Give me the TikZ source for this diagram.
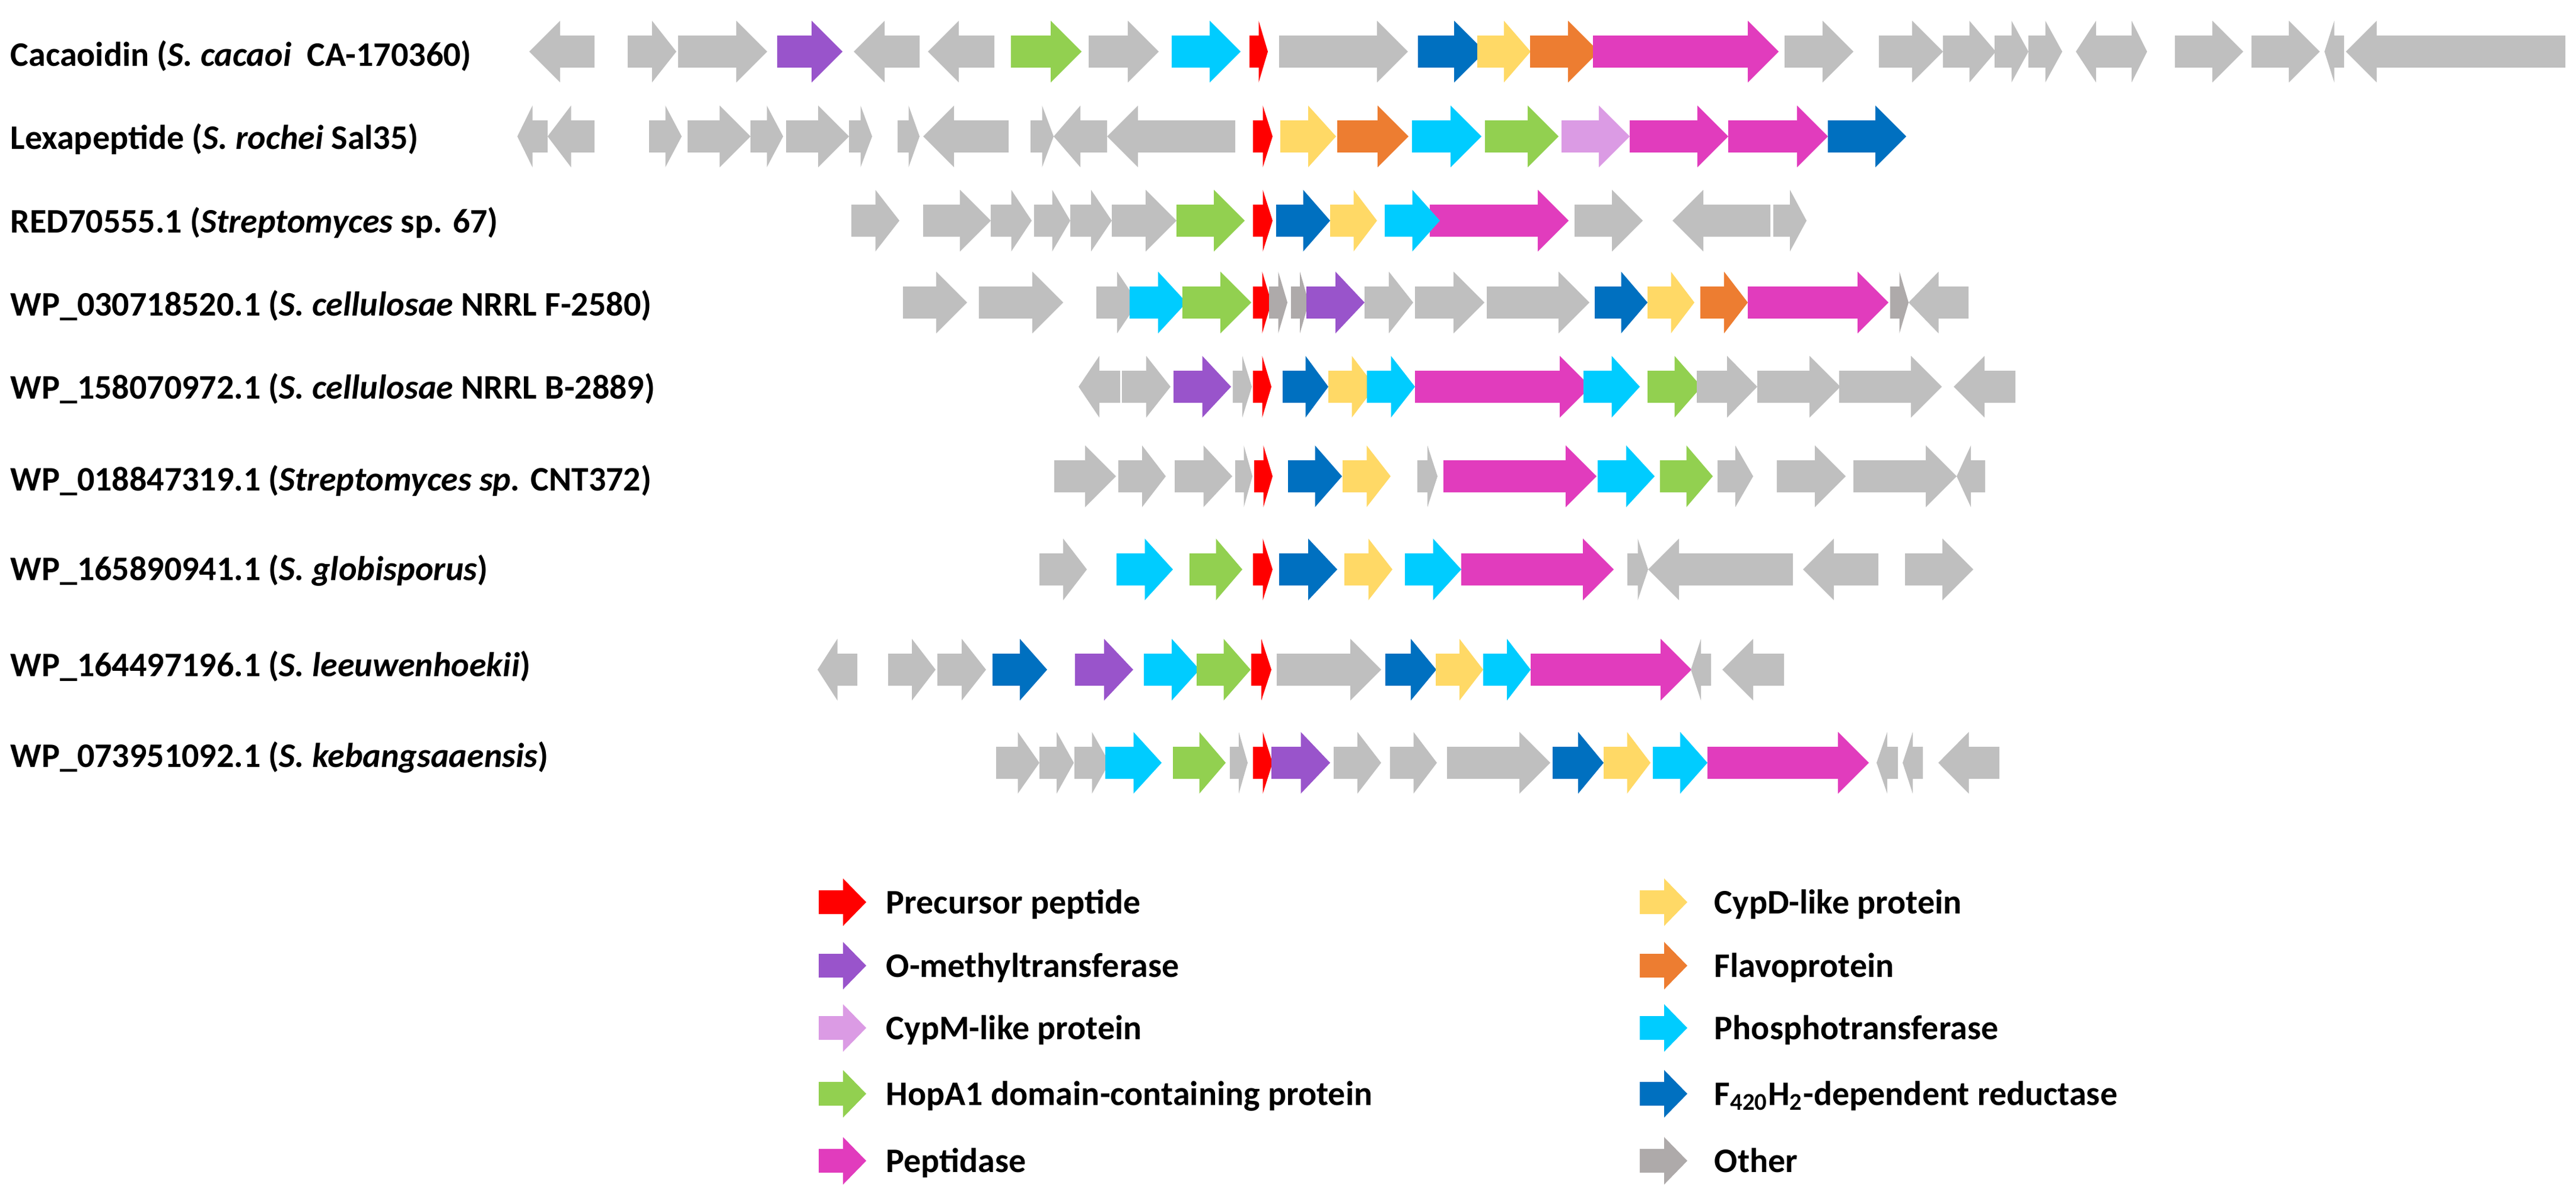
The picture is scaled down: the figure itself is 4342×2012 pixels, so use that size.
\documentclass[tikz,border=0pt]{standalone}
\usepackage{fontspec}
\setmainfont{Carlito}

\definecolor{pep}{HTML}{FF0000}
\definecolor{omt}{HTML}{9954CB}
\definecolor{cypm}{HTML}{DB9BE4}
\definecolor{hopa}{HTML}{92D050}
\definecolor{ptd}{HTML}{E13CBD}
\definecolor{cypd}{HTML}{FFD966}
\definecolor{flavo}{HTML}{ED7D31}
\definecolor{phos}{HTML}{00CCFF}
\definecolor{fred}{HTML}{0070C0}
\definecolor{gr}{HTML}{BFBFBF}
\definecolor{oth}{HTML}{AEAAAA}

\begin{document}
\begin{tikzpicture}[x=0.25pt,y=-0.25pt,
  lab/.style={anchor=base west,inner sep=0pt,font=\bfseries\fontsize{14.5}{17}\selectfont},
  keytext/.style={lab}]
\useasboundingbox (0,0) rectangle (4342,2012);

\def\gene(#1,#2,#3)#4{
	\pgfmathsetmacro\hb{#2-sign(#2-#1)*min(52,abs(#2-#1)/2)}
	\fill[#4] (#1,#3-27) -- (\hb,#3-27) -- (\hb,#3-52) -- (#2,#3) -- (\hb,#3+52) -- (\hb,#3+27) -- (#1,#3+27) -- cycle;
}
\def\keyarrow(#1,#2)#3{
	\fill[#3] (#1,#2-20) -- (#1+41,#2-20) -- (#1+41,#2-40) -- (#1+80,#2) -- (#1+41,#2+40) -- (#1+41,#2+20) -- (#1,#2+20) -- cycle;
}

% base/tip/colour
\foreach \ba/\ti/\co in {1002/892/gr, 1058/1140/gr, 1143/1293/gr, 1310/1420/omt, 1550/1439/gr, 1676/1564/gr, 1704/1823/hopa, 1835/1953/gr, 1975/2091/phos, 2106/2137/pep, 2156/2373/gr, 2390/2503/fred, 2490/2580/cypd, 2579/2695/flavo, 2685/2998/ptd, 3008/3124/gr, 3167/3275/gr, 3275/3364/gr, 3362/3419/gr, 3419/3476/gr, 3567/3499/gr, 3567/3619/gr, 3666/3781/gr, 3795/3910/gr, 3951/3918/gr, 4324/3954/gr}
	{\gene(\ba,\ti,87)\co}
\foreach \ba/\ti/\co in {923/872/gr, 1002/923/gr, 1094/1149/gr, 1159/1265/gr, 1265/1320/gr, 1325/1431/gr, 1431/1470/gr, 1513/1550/gr, 1700/1556/gr, 1737/1776/gr, 1866/1776/gr, 2082/1866/gr, 2112/2145/pep, 2158/2252/cypd, 2254/2374/flavo, 2380/2497/phos, 2503/2627/hopa, 2632/2747/cypm, 2747/2913/ptd, 2913/3081/ptd, 3081/3213/fred}
	{\gene(\ba,\ti,230)\co}
\foreach \ba/\ti/\co in {1435/1516/gr, 1556/1670/gr, 1670/1739/gr, 1743/1804/gr, 1804/1874/gr, 1874/1983/gr, 1983/2098/hopa, 2112/2145/pep, 2151/2242/fred, 2242/2321/cypd, 2410/2644/ptd, 2334/2427/phos, 2654/2769/gr, 2984/2819/gr, 2989/3045/gr}
	{\gene(\ba,\ti,372)\co}
\foreach \ba/\ti/\co in {1522/1630/gr, 1650/1792/gr, 1848/1918/gr, 1904/2000/phos, 1993/2109/hopa, 2112/2143/pep, 2139/2170/oth, 2176/2206/oth, 2202/2300/omt, 2300/2382/gr, 2385/2502/gr, 2506/2679/gr, 2688/2777/fred, 2777/2856/cypd, 2866/2946/flavo, 2946/3183/ptd, 3186/3217/oth, 3318/3217/gr}
	{\gene(\ba,\ti,510)\co}
\foreach \ba/\ti/\co in {1888/1818/gr, 1891/1973/gr, 1978/2075/omt, 2078/2110/gr, 2112/2143/pep, 2162/2239/fred, 2239/2318/cypd, 2304/2385/phos, 2385/2681/ptd, 2669/2764/phos, 2777/2868/hopa, 2860/2962/gr, 2962/3102/gr, 3100/3273/gr, 3397/3293/gr}
	{\gene(\ba,\ti,652)\co}
\foreach \ba/\ti/\co in {1777/1881/gr, 1885/1965/gr, 1980/2077/gr, 2082/2111/gr, 2114/2145/pep, 2171/2262/fred, 2263/2344/cypd, 2389/2423/gr, 2433/2691/ptd, 2693/2789/phos, 2798/2887/hopa, 2895/2955/gr, 2995/3111/gr, 3124/3298/gr, 3346/3298/gr}
	{\gene(\ba,\ti,803)\co}
\foreach \ba/\ti/\co in {1752/1832/gr, 1882/1977/phos, 2005/2094/hopa, 2112/2145/pep, 2156/2254/fred, 2266/2347/cypd, 2368/2463/phos, 2463/2720/ptd, 2743/2778/gr, 3022/2778/gr, 3166/3039/gr, 3211/3326/gr}
	{\gene(\ba,\ti,960)\co}
\foreach \ba/\ti/\co in {1445/1378/gr, 1497/1577/gr, 1580/1662/gr, 1673/1765/fred, 1812/1910/omt, 1928/2022/phos, 2017/2108/hopa, 2109/2143/pep, 2152/2328/gr, 2335/2421/fred, 2420/2500/cypd, 2500/2580/phos, 2580/2851/ptd, 2884/2850/gr, 3007/2903/gr}
	{\gene(\ba,\ti,1129)\co}
\foreach \ba/\ti/\co in {1679/1752/gr, 1752/1810/gr, 1811/1870/gr, 1863/1958/phos, 1977/2066/hopa, 2073/2103/gr, 2112/2145/pep, 2143/2242/omt, 2248/2328/gr, 2343/2422/gr, 2439/2613/gr, 2617/2703/fred, 2703/2782/cypd, 2786/2878/phos, 2878/3150/ptd, 3199/3163/gr, 3241/3207/gr, 3370/3267/gr}
	{\gene(\ba,\ti,1286)\co}

\node[lab] (cacao) at (17,112) {Cacaoidin (\textit{S. cacaoi}\ \ CA-170360)};
\node[lab] (lexa) at (17,252) {Lexapeptide (\textit{S. rochei} Sal35)};
\node[lab] (red70) at (17,392) {RED70555.1 (\textit{Streptomyces} sp. 67)};
\node[lab] (cell1) at (17,532) {WP\_030718520.1 (\textit{S. cellulosae} NRRL F-2580)};
\node[lab] (cell2) at (17,672) {WP\_158070972.1 (\textit{S. cellulosae} NRRL B-2889)};
\node[lab] (cnt) at (17,827) {WP\_018847319.1 (\textit{Streptomyces sp.} CNT372)};
\node[lab] (glob) at (17,978) {WP\_165890941.1 (\textit{S. globisporus})};
\node[lab] (leeu) at (17,1140) {WP\_164497196.1 (\textit{S. leeuwenhoekii})};
\node[lab] (keba) at (17,1293) {WP\_073951092.1 (\textit{S. kebangsaaensis})};

\foreach \ky/\co/\tx in {1521/pep/{Precursor peptide}, 1628/omt/{O-methyltransferase}, 1733/cypm/{CypM-like protein}, 1844/hopa/{HopA1 domain-containing protein}, 1957/ptd/{Peptidase}}
	{\keyarrow(1380,\ky)\co
	\node[keytext] (key-\co) at (1493,\ky+19) {\tx};}
\foreach \ky/\co/\tx in {1521/cypd/{CypD-like protein}, 1628/flavo/{Flavoprotein}, 1733/phos/{Phosphotransferase}, 1844/fred/{F\textsubscript{420}H\textsubscript{2}-dependent reductase}, 1957/oth/{Other}}
	{\keyarrow(2764,\ky)\co
	\node[keytext] (key-\co) at (2889,\ky+19) {\tx};}
\end{tikzpicture}
\end{document}
